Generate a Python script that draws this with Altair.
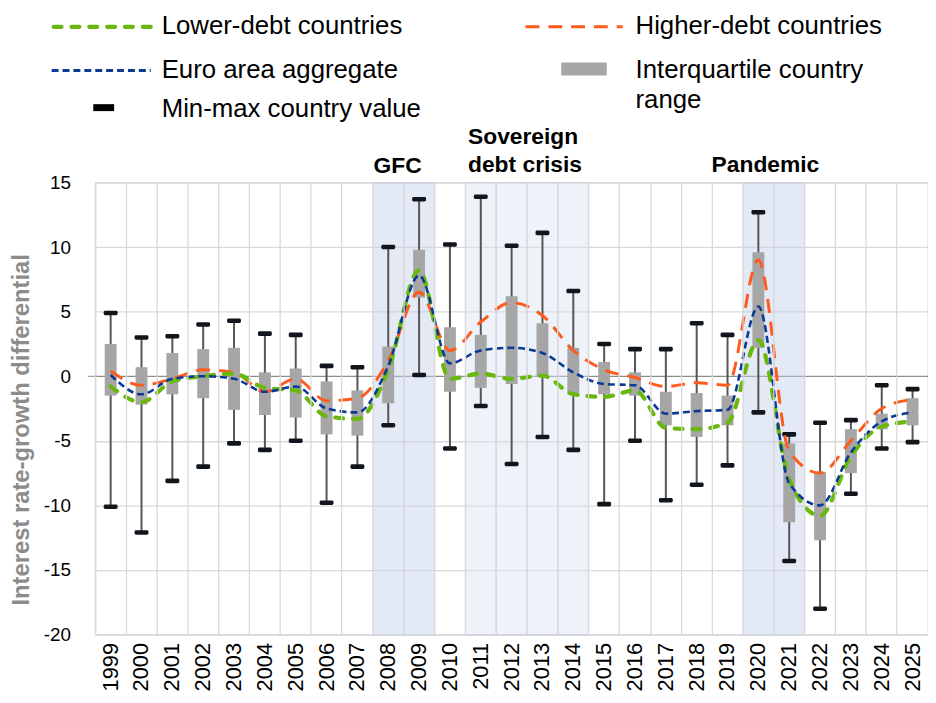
import altair as alt
import pandas as pd

years = [str(y) for y in range(1999, 2026)]
max_vals = [4.9, 3.0, 3.1, 4.0, 4.3, 3.3, 3.2, 0.8, 0.7, 10.0, 13.7, 10.2, 13.9, 10.1, 11.1, 6.6,
            2.5, 2.1, 2.1, 4.1, 3.2, 12.7, -4.5, -3.6, -3.4, -0.7, -1.0]
min_vals = [-10.1, -12.1, -8.1, -7.0, -5.2, -5.7, -5.0, -9.8, -7.0, -3.8, 0.1, -5.6, -2.3, -6.8, -4.7, -5.7,
            -9.9, -5.0, -9.6, -8.4, -6.9, -2.8, -14.3, -18.0, -9.1, -5.6, -5.1]
q3_vals = [2.5, 0.7, 1.8, 2.1, 2.2, 0.3, 0.6, -0.4, -1.1, 2.3, 9.8, 3.8, 3.2, 6.2, 4.1, 2.2,
           1.1, 0.3, -1.2, -1.3, -1.5, 9.6, -5.2, -7.4, -4.1, -2.9, -1.7]
q1_vals = [-1.5, -2.2, -1.4, -1.7, -2.6, -3.0, -3.2, -4.5, -4.6, -2.1, 6.1, -1.2, -0.9, -0.6, 0.0, -1.4,
           -1.4, -1.5, -3.8, -4.7, -3.8, 2.2, -11.3, -12.7, -7.5, -4.1, -3.8]
lower_debt = [-0.8, -2.0, -0.4, 0.0, 0.2, -0.9, -1.1, -3.1, -3.3, 0.5, 8.2, -0.2, 0.2, -0.2, 0.05, -1.4,
              -1.6, -1.1, -4.0, -4.1, -3.6, 2.8, -8.0, -10.8, -6.2, -3.9, -3.5]
higher_debt = [0.4, -0.7, -0.2, 0.5, 0.3, -1.2, -0.2, -1.9, -1.7, 1.2, 6.5, 2.0, 4.2, 5.7, 4.7, 2.0,
               0.5, -0.1, -0.8, -0.5, -0.7, 9.0, -5.8, -7.5, -5.0, -2.5, -1.8]
euro_area = [0.1, -1.4, -0.2, 0.0, -0.2, -1.2, -0.8, -2.5, -2.8, 0.8, 7.8, 1.0, 2.0, 2.2, 1.8, 0.3,
             -0.6, -0.7, -2.9, -2.7, -2.6, 5.4, -8.3, -10.0, -5.9, -3.5, -2.8]

gfc_years = ["2008", "2009"]
sovereign_years = ["2011", "2012", "2013", "2014"]
pandemic_years = ["2020", "2021"]
y_ticks = [-20, -15, -10, -5, 0, 5, 10, 15]

FONT = "Liberation Sans"
W, H = 840, 456
Y_TITLE = "Interest rate-growth differential"

df = pd.DataFrame({"year": years, "mx": max_vals, "mn": min_vals, "q3": q3_vals, "q1": q1_vals,
                   "lower": lower_debt, "higher": higher_debt, "euro": euro_area})
bands = pd.DataFrame({"year": gfc_years + sovereign_years + pandemic_years,
                      "kind": ["crisis"] * 2 + ["sovereign"] * 4 + ["crisis"] * 2})

xscale = alt.Scale(type="band", domain=years, paddingInner=0, paddingOuter=0)
yscale = alt.Scale(domain=[-20, 15], nice=False, zero=False)

x_axis = alt.Axis(grid=True, bandPosition=0, gridColor="#d9d9d9", gridWidth=1.3,
                  ticks=False, domain=False, labelAngle=-90, labelAlign="right",
                  labelBaseline="middle", labelFont=FONT, labelFontSize=22,
                  labelColor="#000000", labelPadding=8)
y_axis = alt.Axis(values=y_ticks, grid=True, labelExpr="datum.value + ''",
                  gridColor={"condition": {"test": "datum.value === 0", "value": "#8c8c8c"}, "value": "#d9d9d9"},
                  gridWidth=1.3, domain=False, tickSize=8,
                  tickColor={"condition": {"test": "datum.value === 0", "value": "#8c8c8c"}, "value": "rgba(0,0,0,0)"},
                  labelFont=FONT, labelFontSize=19, labelColor="#000000", labelPadding=17,
                  titleFont=FONT, titleFontSize=24, titleFontWeight="bold", titleColor="#8c8c8c",
                  titleX=-62, titleY=249)

X = alt.X("year:N", scale=xscale, axis=x_axis, title=None)

def Y(field):
    return alt.Y(f"{field}:Q", scale=yscale, axis=y_axis, title=Y_TITLE)

band_layer = alt.Chart(bands).mark_rect(stroke="#c2cbdc", strokeWidth=1.2, opacity=0.45).encode(
    x=X,
    y=alt.value(0), y2=alt.value(H),
    fill=alt.Fill("kind:N", scale=alt.Scale(domain=["crisis", "sovereign"], range=["#c3d0ea", "#dae3f3"]), legend=None),
)

whisker = alt.Chart(df).mark_rule(color="#555555", strokeWidth=2).encode(
    x=X, y=Y("mn"), y2="mx:Q")

def cap_layer(field):
    return alt.Chart(df).mark_bar(size=14, yOffset=-2.3, y2Offset=2.3, color="#11151c",
                                  cornerRadius=1.5).encode(x=X, y=Y(field), y2=f"{field}:Q")

caps_max = cap_layer("mx")
caps_min = cap_layer("mn")

box = alt.Chart(df).mark_bar(size=12, color="#a6a6a6").encode(x=X, y=Y("q1"), y2="q3:Q")

def series_line(field, color, dash, width, cap="butt"):
    return alt.Chart(df).mark_line(color=color, strokeDash=dash, strokeWidth=width,
                                   strokeCap=cap, interpolate="monotone").encode(x=X, y=Y(field))

line_higher = series_line("higher", "#ff5a1e", [14, 9], 3)
line_lower = series_line("lower", "#6ab80f", [8, 10], 4.2, "round")
line_euro = series_line("euro", "#0b3a96", [7, 4], 2.6)

one = pd.DataFrame({"a": [0]})

def leg_line(x1, x2, y, color, dash, width, cap="butt"):
    return alt.Chart(one).mark_rule(color=color, strokeDash=dash, strokeWidth=width, strokeCap=cap).encode(
        x=alt.value(x1), x2=alt.value(x2), y=alt.value(y))

def leg_rect(x1, x2, y1, y2, color):
    return alt.Chart(one).mark_rect(color=color).encode(
        x=alt.value(x1), x2=alt.value(x2), y=alt.value(y1), y2=alt.value(y2))

def txt(s, x, y, size=26, weight="normal", align="left"):
    return alt.Chart(one).mark_text(text=s, font=FONT, fontSize=size, fontWeight=weight,
                                    align=align, baseline="middle", color="#000000").encode(
        x=alt.value(x), y=alt.value(y))

legend_layers = [
    leg_line(-42, 56, -157, "#6ab80f", [8, 10], 4.2, "round"),
    txt("Lower-debt countries", 67, -158),
    leg_line(434, 532, -157, "#ff5a1e", [14, 9], 3),
    txt("Higher-debt countries", 545, -158),
    leg_line(-44, 56, -113, "#0b3a96", [7, 4], 3),
    txt("Euro area aggregate", 67, -113),
    leg_rect(470, 516, -121, -108, "#a6a6a6"),
    txt("Interquartile country", 545, -113),
    txt("range", 545, -83),
    leg_rect(-2, 19, -79, -72, "#000000"),
    txt("Min-max country value", 67, -74),
    txt("GFC", 305, -17, 23, "bold", "center"),
    txt("Sovereign", 376, -46, 23, "bold"),
    txt("debt crisis", 376, -18, 23, "bold"),
    txt("Pandemic", 676, -18, 23, "bold", "center"),
]

chart = alt.layer(
    band_layer, whisker, box, caps_max, caps_min, line_higher, line_lower, line_euro, *legend_layers
).properties(
    width=W, height=H,
    autosize=alt.AutoSizeParams(type="none"),
    padding={"left": 88, "top": 173, "right": 0, "bottom": 62},
).configure_view(stroke="#d9d9d9", strokeWidth=1.3)

chart.save("out.html", embed_options={"renderer": "svg", "actions": False})
